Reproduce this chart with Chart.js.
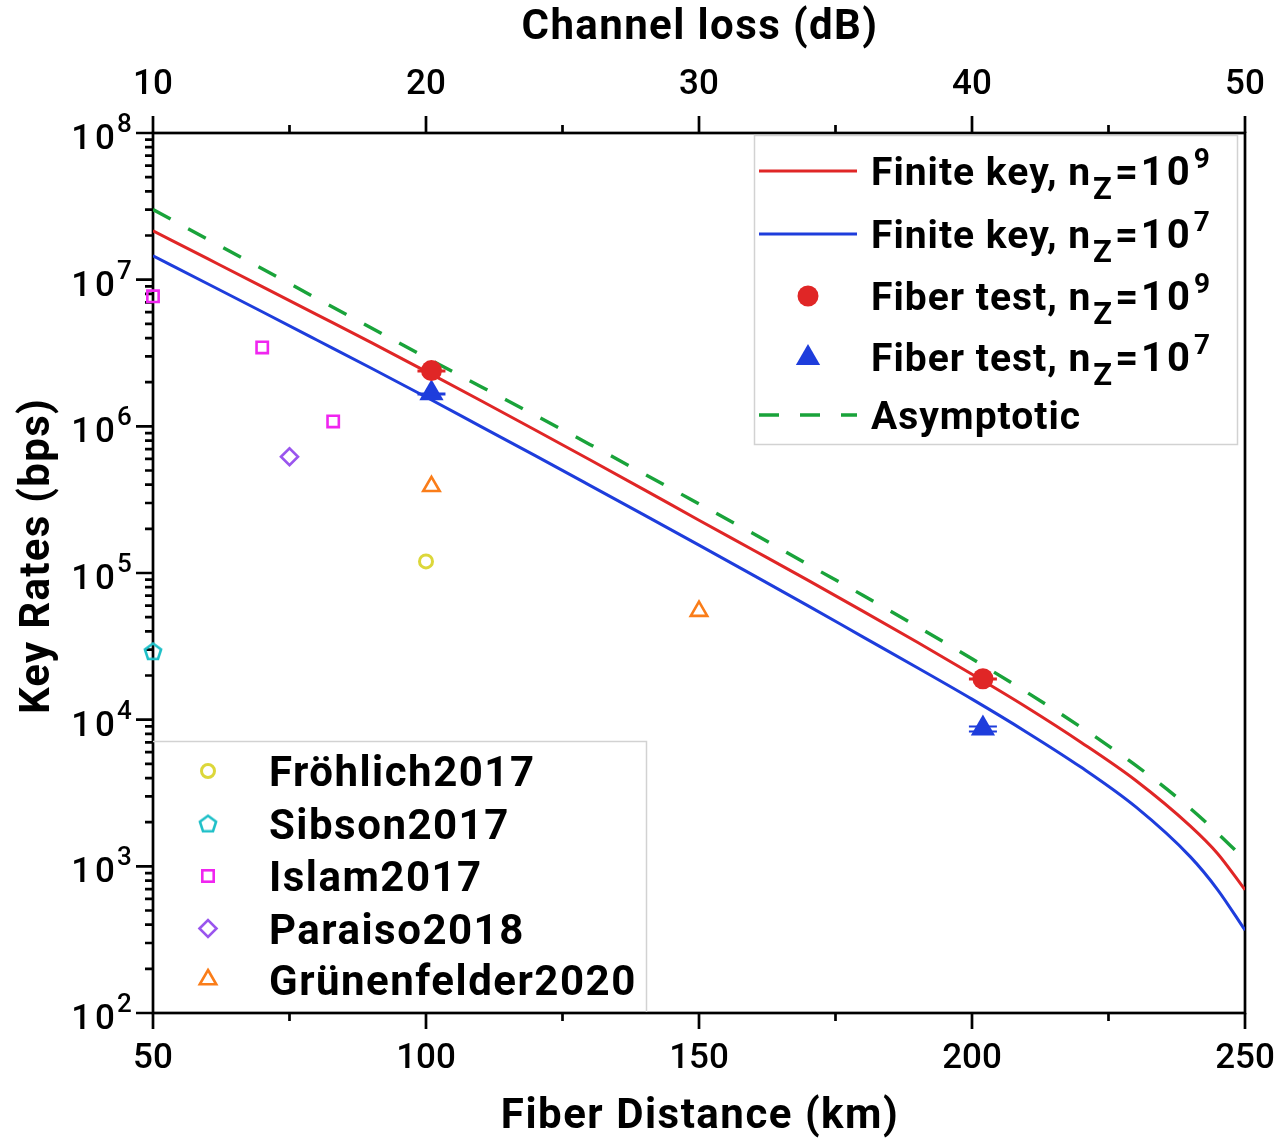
<!DOCTYPE html>
<html>
<head>
<meta charset="utf-8">
<script src="https://cdn.jsdelivr.net/npm/chart.js@4.4.1/dist/chart.umd.min.js"></script>
<style>
  html, body { margin: 0; padding: 0; background: #fff; }
  #wrap { width: 1278px; height: 1141px; position: relative; }
</style>
</head>
<body>
<div id="wrap"><canvas id="keyRateChart"></canvas></div>
<script>
// fiber distance (km) for the simulated curves
const distanceKm = [50, 60, 70, 80, 90, 100, 110, 120, 130, 140, 150, 160, 170, 180, 190, 200, 210, 220, 230, 240, 245, 250];
// key rate curves (bps)
const finiteKey9 = [2.153e7, 1.39e7, 8.97e6, 5.78e6, 3.72e6, 2.37e6, 1.50e6, 9.44e5, 5.92e5, 3.69e5, 2.29e5, 1.43e5, 8.91e4, 5.50e4, 3.37e4, 2.04e4, 1.216e4, 7.00e3, 3.85e3, 1.88e3, 1.22e3, 692];
const finiteKey7 = [1.456e7, 9.38e6, 6.04e6, 3.88e6, 2.49e6, 1.585e6, 1.0e6, 6.31e5, 3.96e5, 2.48e5, 1.55e5, 9.64e4, 5.97e4, 3.67e4, 2.26e4, 1.38e4, 8.22e3, 4.73e3, 2.54e3, 1.16e3, 692, 367];
const asymptotic = [3.006e7, 1.888e7, 1.186e7, 7.45e6, 4.69e6, 2.95e6, 1.87e6, 1.19e6, 7.53e5, 4.73e5, 2.96e5, 1.85e5, 1.14e5, 7.05e4, 4.31e4, 2.60e4, 1.54e4, 8.87e3, 4.88e3, 2.48e3, 1.68e3, 1.11e3];

// measured points with their error bars
const fiberTestKm = [101, 202];
const fiberTest9 = [2.4e6, 1.9e4];
const fiberTest9Err = [1.5e4, 100];
const fiberTest7 = [1.68e6, 8.7e3];
const fiberTest7Err = [1.5e4, 350];

// other experiments
const frohlichKm = [100], frohlichRate = [1.2e5];
const sibsonKm = [50], sibsonRate = [2.93e4];
const islamKm = [50, 70, 83], islamRate = [7.7e6, 3.45e6, 1.08e6];
const paraisoKm = [75], paraisoRate = [6.2e5];
const grunenfelderKm = [101, 150], grunenfelderRate = [3.9e5, 5.5e4];

// axes
const xTicks = [50, 100, 150, 200, 250];
const lossTicks = [10, 20, 30, 40, 50];
const yDecades = [2, 3, 4, 5, 6, 7, 8];

const RED = '#e02626', BLUE = '#1e3ddc', GREEN = '#19a33a';
const YELLOW = '#dcd73a', CYAN = '#1fc0c8', MAGENTA = '#f025f0', PURPLE = '#9a55ee', ORANGE = '#fa7d19';
const FONT = 'Roboto, "Noto Sans", sans-serif';

function pts(xs, ys) { return xs.map((x, i) => ({ x: x, y: ys[i] })); }

// pentagon marker (not a built in point style)
function makePentagon() {
  const c = document.createElement('canvas');
  c.width = 24; c.height = 24;
  const g = c.getContext('2d');
  g.strokeStyle = CYAN; g.lineWidth = 2.6;
  g.beginPath();
  for (let i = 0; i < 5; i++) {
    const a = -Math.PI / 2 + i * 2 * Math.PI / 5;
    const px = 12 + 8.5 * Math.cos(a), py = 12.8 + 8.5 * Math.sin(a);
    if (i === 0) g.moveTo(px, py); else g.lineTo(px, py);
  }
  g.closePath(); g.stroke();
  return c;
}
const pentagon = makePentagon();

function spaced(ctx, text, x, y, sp) {
  ctx.letterSpacing = sp + 'px';
  ctx.fillText(text, x, y);
  const w = ctx.measureText(text).width;
  ctx.letterSpacing = '0px';
  return w;
}

// axis frame, ticks, y labels and axis titles
const framePlugin = {
  id: 'frame',
  beforeDatasetsDraw(chart) {
    const { ctx, chartArea: a, scales } = chart;
    ctx.save();
    ctx.strokeStyle = '#000';
    ctx.lineWidth = 2.7;
    ctx.strokeRect(a.left, a.top, a.right - a.left, a.bottom - a.top);
    ctx.beginPath();
    xTicks.forEach(v => {
      const x = scales.x.getPixelForValue(v);
      ctx.moveTo(x, a.bottom); ctx.lineTo(x, a.bottom + 16);
    });
    for (let v = 75; v < 250; v += 50) {
      const x = scales.x.getPixelForValue(v);
      ctx.moveTo(x, a.bottom); ctx.lineTo(x, a.bottom + 8);
    }
    lossTicks.forEach(v => {
      const x = scales.x2.getPixelForValue(v);
      ctx.moveTo(x, a.top); ctx.lineTo(x, a.top - 17);
    });
    for (let v = 15; v < 50; v += 10) {
      const x = scales.x2.getPixelForValue(v);
      ctx.moveTo(x, a.top); ctx.lineTo(x, a.top - 8);
    }
    yDecades.forEach(e => {
      const y = scales.y.getPixelForValue(Math.pow(10, e));
      ctx.moveTo(a.left, y); ctx.lineTo(a.left - 17, y);
      if (e < 8) {
        for (let k = 2; k < 10; k++) {
          const ym = scales.y.getPixelForValue(k * Math.pow(10, e));
          ctx.moveTo(a.left, ym); ctx.lineTo(a.left - 8, ym);
        }
      }
    });
    ctx.stroke();

    // y labels with superscript exponent
    ctx.fillStyle = '#000';
    ctx.textBaseline = 'alphabetic';
    yDecades.forEach(e => {
      const y = scales.y.getPixelForValue(Math.pow(10, e));
      ctx.font = '500 35px ' + FONT;
      ctx.textAlign = 'right';
      ctx.letterSpacing = '4px';
      ctx.fillText('10', 119, y + 16);
      ctx.letterSpacing = '0px';
      ctx.font = '500 26px ' + FONT;
      ctx.textAlign = 'left';
      ctx.fillText(String(e), 117, y - 1);
    });

    // axis titles
    ctx.font = 'bold 42px ' + FONT;
    ctx.textAlign = 'center';
    ctx.textBaseline = 'middle';
    const cx = (a.left + a.right) / 2;
    spaced(ctx, 'Channel loss (dB)', cx + 1, 28, 1.4);
    spaced(ctx, 'Fiber Distance (km)', cx + 1, 1117, 1.5);
    ctx.save();
    ctx.translate(38, 556);
    ctx.rotate(-Math.PI / 2);
    spaced(ctx, 'Key Rates (bps)', 0, 0, 1.3);
    ctx.restore();
    ctx.restore();
  }
};

// small error bar caps on the fiber test points
const errorPlugin = {
  id: 'errorCaps',
  afterDatasetsDraw(chart) {
    const { ctx, scales } = chart;
    ctx.save();
    ctx.lineWidth = 2;
    [[fiberTest9, fiberTest9Err, RED], [fiberTest7, fiberTest7Err, BLUE]].forEach(s => {
      ctx.strokeStyle = s[2];
      ctx.beginPath();
      fiberTestKm.forEach((km, i) => {
        const x = scales.x.getPixelForValue(km);
        [s[0][i] + s[1][i], s[0][i] - s[1][i]].forEach(v => {
          const y = Math.round(scales.y.getPixelForValue(v)) + 0.5;
          ctx.moveTo(x - 14, y); ctx.lineTo(x + 14, y);
        });
      });
      ctx.stroke();
    });
    ctx.restore();
  }
};

function drawMarker(ctx, kind, x, y) {
  ctx.save();
  ctx.beginPath();
  if (kind === 'dot') {
    ctx.fillStyle = RED; ctx.arc(x, y, 10.5, 0, Math.PI * 2); ctx.fill();
  } else if (kind === 'tri') {
    const r = 14;
    ctx.fillStyle = BLUE;
    ctx.moveTo(x, y - r); ctx.lineTo(x + r * 0.866, y + r / 2); ctx.lineTo(x - r * 0.866, y + r / 2);
    ctx.closePath(); ctx.fill();
  } else if (kind === 'circle') {
    ctx.strokeStyle = YELLOW; ctx.lineWidth = 3; ctx.arc(x, y, 6.5, 0, Math.PI * 2); ctx.stroke();
  } else if (kind === 'pent') {
    ctx.drawImage(pentagon, x - 12, y - 12);
  } else if (kind === 'square') {
    ctx.strokeStyle = MAGENTA; ctx.lineWidth = 2.6; ctx.strokeRect(x - 5.7, y - 5.7, 11.4, 11.4);
  } else if (kind === 'diamond') {
    ctx.strokeStyle = PURPLE; ctx.lineWidth = 2.6;
    ctx.moveTo(x - 8.5, y); ctx.lineTo(x, y - 8.5); ctx.lineTo(x + 8.5, y); ctx.lineTo(x, y + 8.5);
    ctx.closePath(); ctx.stroke();
  } else if (kind === 'otri') {
    const r = 9.5;
    ctx.strokeStyle = ORANGE; ctx.lineWidth = 2.6;
    ctx.moveTo(x, y - r); ctx.lineTo(x + r * 0.866, y + r / 2); ctx.lineTo(x - r * 0.866, y + r / 2);
    ctx.closePath(); ctx.stroke();
  }
  ctx.restore();
}

// text like "Finite key, n_Z=10^9"
function drawSubSup(ctx, x, base, head, sup) {
  ctx.font = 'bold 39px ' + FONT;
  x += spaced(ctx, head, x, base, 1) + 2;
  ctx.font = 'bold 31px ' + FONT;
  x += spaced(ctx, 'Z', x, base + 14, 0) + 3;
  ctx.font = 'bold 40px ' + FONT;
  x += spaced(ctx, '=10', x, base, 3) + 1;
  ctx.font = 'bold 28px ' + FONT;
  ctx.fillText(sup, x, base - 17);
}

const legendPlugin = {
  id: 'legends',
  afterDraw(chart) {
    const ctx = chart.ctx;
    ctx.save();
    // upper right box
    ctx.fillStyle = '#fff';
    ctx.fillRect(754, 135, 483, 309);
    ctx.strokeStyle = '#d2d2d2'; ctx.lineWidth = 1.5;
    ctx.strokeRect(754.5, 135.5, 483, 309);
    ctx.lineWidth = 3;
    ctx.strokeStyle = RED;
    ctx.beginPath(); ctx.moveTo(759, 171); ctx.lineTo(857, 171); ctx.stroke();
    ctx.strokeStyle = BLUE;
    ctx.beginPath(); ctx.moveTo(759, 234); ctx.lineTo(857, 234); ctx.stroke();
    ctx.strokeStyle = GREEN; ctx.lineWidth = 3.3; ctx.setLineDash([20, 21]);
    ctx.beginPath(); ctx.moveTo(759, 415); ctx.lineTo(857, 415); ctx.stroke();
    ctx.setLineDash([]);
    drawMarker(ctx, 'dot', 808, 296);
    drawMarker(ctx, 'tri', 808, 358);
    ctx.fillStyle = '#000';
    ctx.textAlign = 'left'; ctx.textBaseline = 'alphabetic';
    drawSubSup(ctx, 871, 185, 'Finite key, n', '9');
    drawSubSup(ctx, 871, 248, 'Finite key, n', '7');
    drawSubSup(ctx, 871, 310, 'Fiber test, n', '9');
    drawSubSup(ctx, 871, 371, 'Fiber test, n', '7');
    ctx.font = 'bold 39px ' + FONT;
    spaced(ctx, 'Asymptotic', 871, 429, 1);

    // lower left box
    ctx.fillStyle = '#fff';
    ctx.fillRect(155, 741, 491, 270);
    ctx.strokeStyle = '#d2d2d2'; ctx.lineWidth = 1.5;
    ctx.beginPath(); ctx.moveTo(153, 741.5); ctx.lineTo(646.5, 741.5); ctx.lineTo(646.5, 1012); ctx.stroke();
    const rows = [
      ['circle', 'Fröhlich2017', 771],
      ['pent', 'Sibson2017', 823.5],
      ['square', 'Islam2017', 876],
      ['diamond', 'Paraiso2018', 928.5],
      ['otri', 'Grünenfelder2020', 979.5]
    ];
    ctx.fillStyle = '#000';
    ctx.font = 'bold 42px ' + FONT;
    rows.forEach(r => {
      drawMarker(ctx, r[0], 208, r[2]);
      spaced(ctx, r[1], 269, r[2] + 15, 1.5);
    });
    ctx.restore();
  }
};

function fitX(height) {
  return s => { s.height = height; s.paddingLeft = 0; s.paddingRight = 0; };
}

const ctx = document.getElementById('keyRateChart').getContext('2d');
const chart = new Chart(ctx, {
  type: 'scatter',
  data: {
    datasets: [
      { label: 'Fiber test 1e9', data: pts(fiberTestKm, fiberTest9), pointStyle: 'circle', pointRadius: 10.5,
        backgroundColor: RED, borderColor: RED, borderWidth: 0, clip: false },
      { label: 'Fiber test 1e7', data: pts(fiberTestKm, fiberTest7), pointStyle: 'triangle', pointRadius: 14,
        backgroundColor: BLUE, borderColor: BLUE, borderWidth: 0, clip: false },
      { label: 'Fröhlich2017', data: pts(frohlichKm, frohlichRate), pointStyle: 'circle', pointRadius: 6.5,
        backgroundColor: 'rgba(0,0,0,0)', borderColor: YELLOW, borderWidth: 3, clip: false },
      { label: 'Sibson2017', data: pts(sibsonKm, sibsonRate), pointStyle: pentagon, clip: false },
      { label: 'Islam2017', data: pts(islamKm, islamRate), pointStyle: 'rect', pointRadius: 8,
        backgroundColor: 'rgba(0,0,0,0)', borderColor: MAGENTA, borderWidth: 2.6, clip: false },
      { label: 'Paraiso2018', data: pts(paraisoKm, paraisoRate), pointStyle: 'rectRot', pointRadius: 8.5,
        backgroundColor: 'rgba(0,0,0,0)', borderColor: PURPLE, borderWidth: 2.6, clip: false },
      { label: 'Grünenfelder2020', data: pts(grunenfelderKm, grunenfelderRate), pointStyle: 'triangle', pointRadius: 9.5,
        backgroundColor: 'rgba(0,0,0,0)', borderColor: ORANGE, borderWidth: 2.6, clip: false },
      { label: 'Finite key 1e9', data: pts(distanceKm, finiteKey9), showLine: true, pointRadius: 0,
        borderColor: RED, borderWidth: 3, cubicInterpolationMode: 'monotone' },
      { label: 'Finite key 1e7', data: pts(distanceKm, finiteKey7), showLine: true, pointRadius: 0,
        borderColor: BLUE, borderWidth: 3, cubicInterpolationMode: 'monotone' },
      { label: 'Asymptotic', data: pts(distanceKm, asymptotic), showLine: true, pointRadius: 0,
        borderColor: GREEN, borderWidth: 3.4, borderDash: [20, 20], cubicInterpolationMode: 'monotone' }
    ]
  },
  options: {
    responsive: true,
    maintainAspectRatio: false,
    animation: false,
    layout: { padding: { left: 0, right: 33, top: 0, bottom: 0 } },
    plugins: { legend: { display: false }, tooltip: { enabled: false } },
    scales: {
      x: {
        type: 'linear', position: 'bottom', min: 50, max: 250,
        afterBuildTicks: s => { s.ticks = xTicks.map(v => ({ value: v })); },
        afterFit: fitX(128),
        grid: { display: false, drawTicks: false },
        border: { display: false },
        ticks: { color: '#000', padding: 25, font: { family: FONT, size: 35, weight: '500' }, maxRotation: 0 }
      },
      x2: {
        type: 'linear', position: 'top', display: true, min: 10, max: 50,
        afterBuildTicks: s => { s.ticks = lossTicks.map(v => ({ value: v })); },
        afterFit: fitX(133),
        grid: { display: false, drawTicks: false },
        border: { display: false },
        ticks: { color: '#000', padding: 27, font: { family: FONT, size: 35, weight: '500' }, maxRotation: 0 }
      },
      y: {
        type: 'logarithmic', position: 'left', min: 100, max: 1e8,
        afterFit: s => { s.width = 153; },
        grid: { display: false, drawTicks: false },
        border: { display: false },
        ticks: { display: false }
      }
    }
  },
  plugins: [framePlugin, errorPlugin, legendPlugin]
});
</script>
</body>
</html>
